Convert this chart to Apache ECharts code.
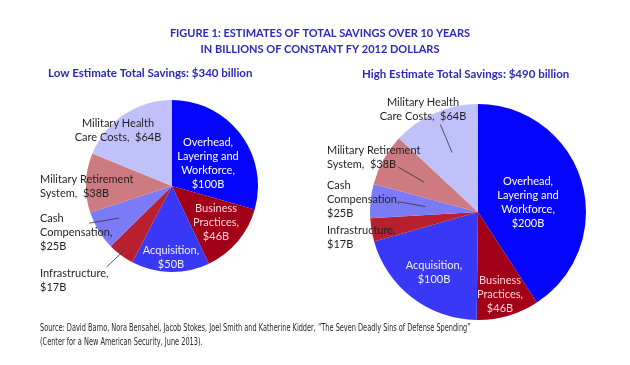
<!DOCTYPE html>
<html>
<head>
<meta charset="utf-8">
<script src="https://cdn.jsdelivr.net/npm/echarts@6/dist/echarts.min.js"></script>
<style>html,body{margin:0;padding:0;background:#fff}#c{width:630px;height:365px}</style>
</head>
<body>
<div id="c"></div>
<script>
// ---- data ----
const categories = ["Overhead, Layering and Workforce", "Business Practices", "Acquisition", "Infrastructure", "Cash Compensation", "Military Retirement System", "Military Health Care Costs"];
const lowValues = [100, 46, 50, 17, 25, 38, 64];
const highValues = [200, 46, 100, 17, 25, 38, 64];
const lowLabels = ["Overhead,\nLayering and\nWorkforce,\n$100B", "Business\nPractices,\n$46B", "Acquisition,\n$50B", "Infrastructure,\n$17B", "Cash\nCompensation,\n$25B", "Military Retirement\nSystem,  $38B", "Military Health\nCare Costs,  $64B"];
const highLabels = ["Overhead,\nLayering and\nWorkforce,\n$200B", "Business\nPractices,\n$46B", "Acquisition,\n$100B", "Infrastructure,\n$17B", "Cash\nCompensation,\n$25B", "Military Retirement\nSystem,  $38B", "Military Health\nCare Costs,  $64B"];
const mainTitle = "FIGURE 1: ESTIMATES OF TOTAL SAVINGS OVER 10 YEARS\nIN BILLIONS OF CONSTANT FY 2012 DOLLARS";
const lowTitle = "Low Estimate Total Savings: $340 billion";
const highTitle = "High Estimate Total Savings: $490 billion";
const sourceText = "Source: David Barno, Nora Bensahel, Jacob Stokes, Joel Smith and Katherine Kidder, \u201cThe Seven Deadly Sins of Defense Spending\u201d\n(Center for a New American Security, June 2013).";

// ---- styles / layout ----
const colors = ["#0505fb", "#a10018", "#3838f6", "#b81f2f", "#7b7bf8", "#cd7a80", "#c0c0fb"];
const labelColors = ["#ffffff", "#ffd6d6", "#f0f0ff", "#231f20", "#231f20", "#231f20", "#231f20"];
const FONT = "Lato";
const centers = [[172, 186], [478, 212]];
const radii = [86, 108];
// label anchor: [x, y(middle), align]
const lowPos = [[208, 163, 'center'], [216, 222, 'center'], [171, 257, 'center'], [40, 280, 'left'], [40, 232, 'left'], [40, 186, 'left'], [118, 130, 'center']];
const highPos = [[528, 202, 'center'], [500, 294, 'center'], [434, 272, 'center'], [327, 237, 'left'], [327, 199, 'left'], [327, 157, 'left'], [423, 109, 'center']];
// leader lines: [inside ratio of radius, end fx, end fy] (end relative to label box)
const lowLines = {3: [0.92, 0.97, 0.04], 4: [0.72, 0.68, 0.29]};
const highLines = {6: [0.6, 0.7, 1.05], 5: [0.57, 0.76, 0.86], 4: [0.49, 1.0, 0.57]};
const lineStore = {};

function makeData(values, labels, lines) {
  return values.map((v, i) => ({
    name: categories[i],
    value: v,
    itemStyle: {color: colors[i]},
    label: {formatter: labels[i], color: labelColors[i], position: lines[i] ? 'outside' : 'inside'},
    labelLine: {show: !!lines[i]}
  }));
}

function makeLayout(si, pos, lines) {
  return function (p) {
    const i = p.dataIndex;
    const q = pos[i];
    const res = {x: q[0], y: q[1], align: q[2], verticalAlign: 'middle'};
    const ln = lines[i];
    if (ln && p.labelLinePoints) {
      const c = centers[si];
      const e = p.labelLinePoints[0];
      const s = [c[0] + (e[0] - c[0]) * ln[0], c[1] + (e[1] - c[1]) * ln[0]];
      const r = p.labelRect;
      const lx = q[2] === 'left' ? q[0] : q[0] - r.width / 2;
      const ly = q[1] - r.height / 2;
      const t = [lx + r.width * ln[1], ly + r.height * ln[2]];
      lineStore[si + '_' + i] = [s, t];
    }
    return res;
  };
}

const commonLabel = {fontFamily: FONT, fontSize: 11, lineHeight: 14};
const hiddenLine = {lineStyle: {opacity: 0}, length: 5, length2: 5};

const chart = echarts.init(document.getElementById('c'), null, {renderer: 'canvas'});
chart.setOption({
  backgroundColor: '#fff',
  animation: false,
  title: [
    {text: mainTitle, top: 25, textAlign: 'center', left: 320, padding: 0,
     textStyle: {fontFamily: FONT, fontSize: 11, fontWeight: 'bold', color: '#2929bd', lineHeight: 16, align: 'center'}},
    {text: lowTitle, left: 48, top: 67, padding: 0, textStyle: {fontFamily: FONT, fontSize: 11.5, fontWeight: 'bold', color: '#2929bd'}},
    {text: highTitle, left: 362, top: 68, padding: 0, textStyle: {fontFamily: FONT, fontSize: 11.5, fontWeight: 'bold', color: '#2929bd'}}
  ],
  series: [
    {type: 'pie', center: centers[0], radius: radii[0], startAngle: 90, clockwise: true,
     avoidLabelOverlap: false, label: commonLabel, labelLine: hiddenLine,
     itemStyle: {borderWidth: 0}, emphasis: {disabled: true},
     labelLayout: makeLayout(0, lowPos, lowLines), data: makeData(lowValues, lowLabels, lowLines)},
    {type: 'pie', center: centers[1], radius: radii[1], startAngle: 90, clockwise: true,
     avoidLabelOverlap: false, label: commonLabel, labelLine: hiddenLine,
     itemStyle: {borderWidth: 0}, emphasis: {disabled: true},
     labelLayout: makeLayout(1, highPos, highLines), data: makeData(highValues, highLabels, highLines)}
  ]
});

const graphics = Object.keys(lineStore).map(k => ({
  type: 'line', z: 100, silent: true,
  shape: {x1: lineStore[k][0][0], y1: lineStore[k][0][1], x2: lineStore[k][1][0], y2: lineStore[k][1][1]},
  style: {stroke: '#333', lineWidth: 0.8}
}));
graphics.push({
  type: 'text', x: 40, y: 321, scaleX: 0.73, z: 100, silent: true,
  style: {text: sourceText, fontFamily: "'DejaVu Sans Condensed', 'Roboto', sans-serif", fontSize: 10, lineHeight: 14, fill: '#231f20'}
});
chart.setOption({graphic: graphics});
</script>
</body>
</html>
